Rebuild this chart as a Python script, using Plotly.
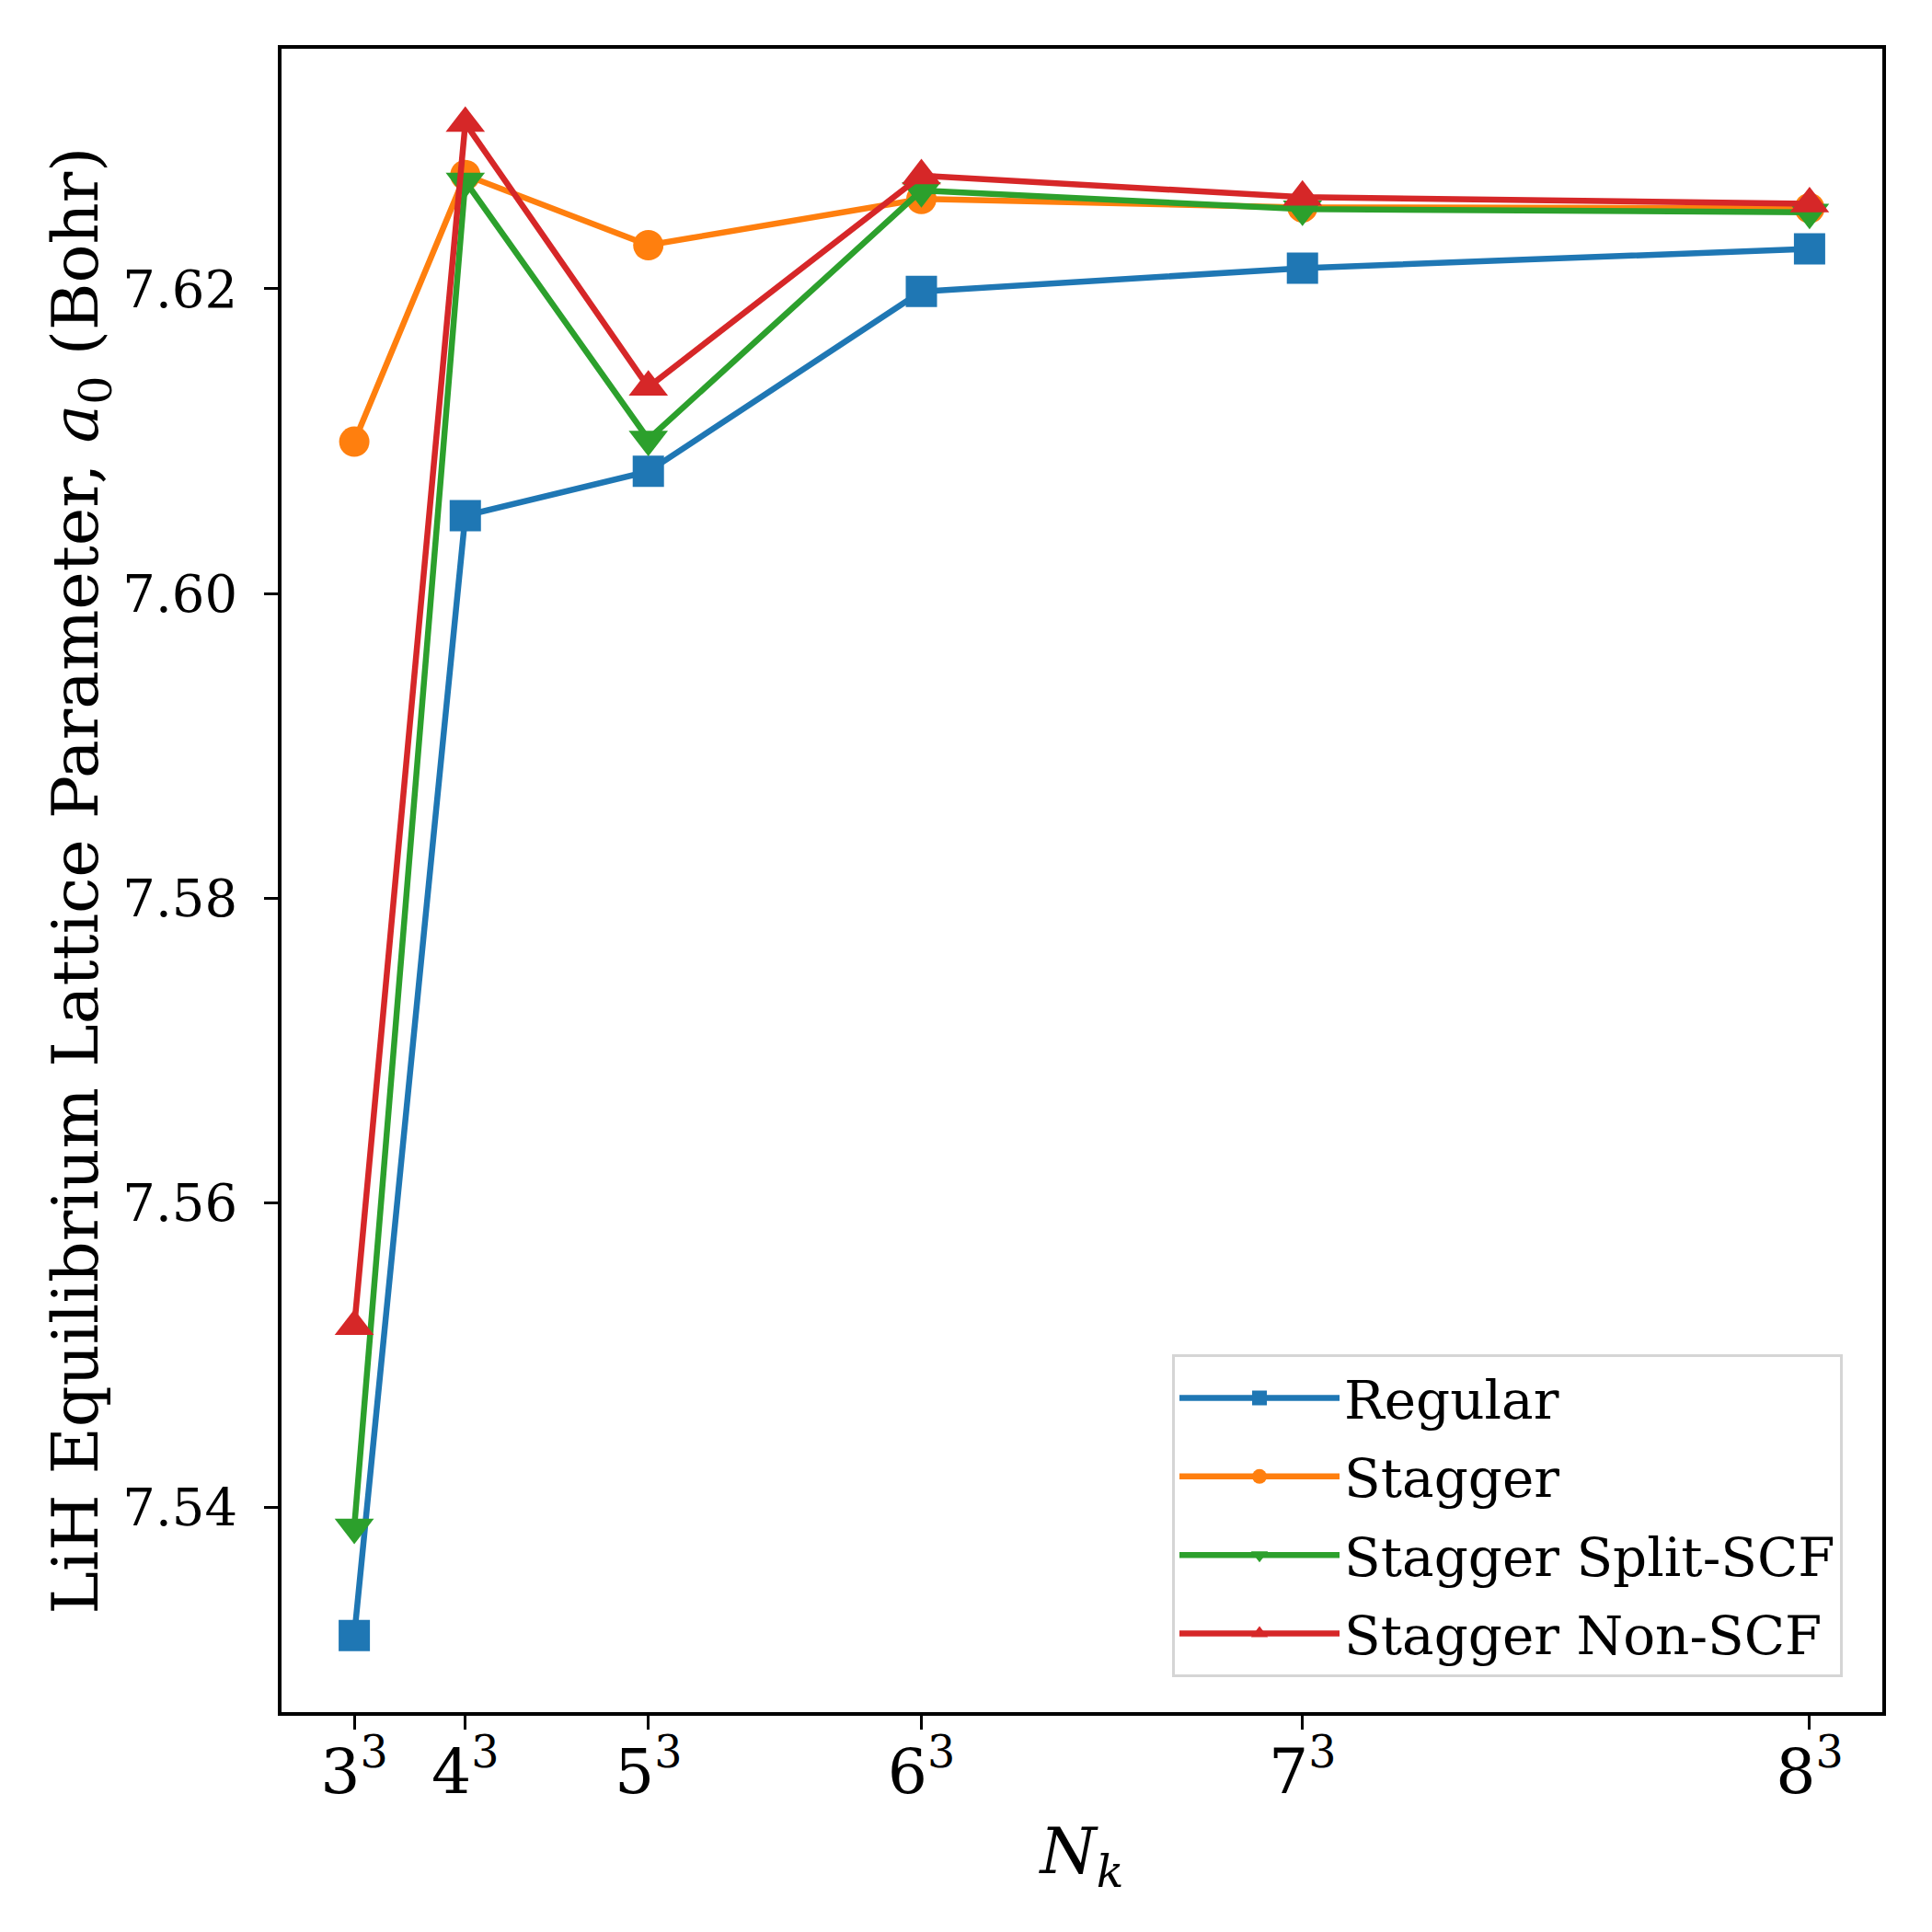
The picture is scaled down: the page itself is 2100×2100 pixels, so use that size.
import plotly.graph_objects as go

# Data
nk_values = [27, 64, 125, 216, 343, 512]
nk_labels = ["3<sup>3</sup>", "4<sup>3</sup>", "5<sup>3</sup>", "6<sup>3</sup>", "7<sup>3</sup>", "8<sup>3</sup>"]

regular = [7.53161, 7.60512, 7.60802, 7.61983, 7.62136, 7.62263]
stagger = [7.60997, 7.62747, 7.62287, 7.62590, 7.62535, 7.62530]
stagger_split_scf = [7.53872, 7.62707, 7.61013, 7.62645, 7.62524, 7.62502]
stagger_non_scf = [7.55189, 7.63087, 7.61355, 7.62743, 7.62602, 7.62559]

series_names = ["Regular", "Stagger", "Stagger Split-SCF", "Stagger Non-SCF"]
series_values = [regular, stagger, stagger_split_scf, stagger_non_scf]
colors = ["#1f77b4", "#ff7f0e", "#2ca02c", "#d62728"]
symbols = ["square", "circle", "triangle-down", "triangle-up"]
msizes = [34, 33, 37, 37]

y_ticks = [7.54, 7.56, 7.58, 7.60, 7.62]

FONT = "DejaVu Serif"

fig = go.Figure()
for i, (name, vals) in enumerate(zip(series_names, series_values)):
    fig.add_trace(go.Scatter(
        x=nk_values, y=vals, name=name, mode="lines+markers",
        line=dict(color=colors[i], width=6.5),
        marker=dict(symbol=symbols[i], size=msizes[i], color=colors[i], line=dict(width=0)),
        legendgroup=f"g{i}",
    ))

fig.update_layout(
    width=2100, height=2100,
    paper_bgcolor="white", plot_bgcolor="white",
    margin=dict(l=298, r=62, t=45, b=247),
    font=dict(family=FONT, color="black", size=56),
    showlegend=True,
    legend=dict(
        x=0.9753, y=0.0209, xanchor="right", yanchor="bottom",
        bgcolor="white", bordercolor="#d5d5d5", borderwidth=3,
        font=dict(family=FONT, size=58, color="black"),
        traceorder="grouped", tracegroupgap=7,
        itemwidth=174,
    ),
)

fig.update_xaxes(
    range=[2.75, 536.25],
    tickmode="array", tickvals=nk_values, ticktext=nk_labels,
    tickfont=dict(family=FONT, size=68),
    ticks="outside", ticklen=15, tickwidth=3, tickcolor="black",
    ticklabelstandoff=-12,
    showline=True, linecolor="black", linewidth=3.5, mirror=True,
    showgrid=False, zeroline=False,
    title=dict(text="<i>N</i><sub><i>k</i></sub>", font=dict(family=FONT, size=70), standoff=24),
)
fig.update_yaxes(
    range=[7.52658, 7.63576],
    tickmode="array", tickvals=y_ticks, ticktext=[f"{v:.2f}" for v in y_ticks],
    tickfont=dict(family=FONT, size=56),
    ticks="outside", ticklen=15, tickwidth=3, tickcolor="black",
    ticklabelstandoff=18,
    showline=True, linecolor="black", linewidth=3.5, mirror=True,
    showgrid=False, zeroline=False,
    title=dict(text="LiH Equilibrium Lattice Parameter, <i>a</i><sub>0</sub> (Bohr)",
               font=dict(family=FONT, size=70), standoff=5),
)

fig.write_html("out.html")
